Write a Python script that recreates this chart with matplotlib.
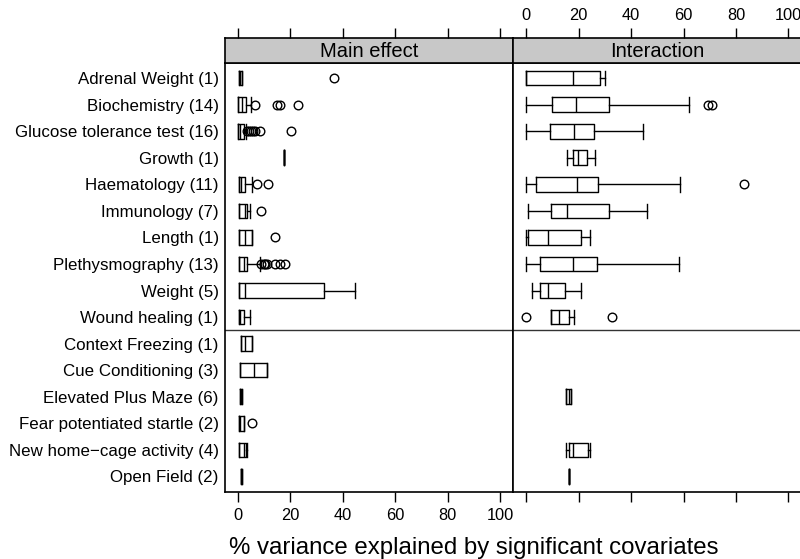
import numpy as np
import matplotlib.pyplot as plt

plt.rcParams['font.family'] = ['Liberation Sans', 'DejaVu Sans']

categories = ['Adrenal Weight (1)', 'Biochemistry (14)', 'Glucose tolerance test (16)',
              'Growth (1)', 'Haematology (11)', 'Immunology (7)', 'Length (1)',
              'Plethysmography (13)', 'Weight (5)', 'Wound healing (1)',
              'Context Freezing (1)', 'Cue Conditioning (3)', 'Elevated Plus Maze (6)',
              'Fear potentiated startle (2)', 'New home\u2212cage activity (4)', 'Open Field (2)']

# Main effect: whisker low, Q1, median, Q3, whisker high, outliers
main_lo = [0.3, 0.2, 0.2, 17.5, 0.4, 0.4, 0.4, 0.4, 0.4, 0.4, 1.3, 1.0, 1.0, 0.6, 0.6, 1.1]
main_q1 = [0.3, 0.2, 0.2, 17.5, 0.4, 0.4, 0.4, 0.4, 0.4, 0.4, 1.3, 1.0, 1.0, 0.6, 0.6, 1.1]
main_med = [0.8, 1.5, 1.0, 17.5, 1.2, 2.8, 2.9, 2.2, 2.7, 1.0, 2.9, 6.1, 1.3, 1.0, 2.4, 1.3]
main_q3 = [1.5, 3.0, 2.5, 17.5, 2.7, 3.6, 5.5, 3.6, 33.0, 2.5, 5.5, 11.2, 1.7, 2.5, 3.0, 1.5]
main_hi = [1.5, 5.2, 3.0, 17.5, 5.5, 4.6, 5.5, 8.6, 44.5, 4.6, 5.5, 11.2, 1.7, 2.5, 3.4, 1.5]
main_out = [[36.5], [6.7, 15.0, 16.2, 22.8], [3.6, 4.3, 5.1, 5.9, 6.6, 8.6, 20.3], [],
            [7.2, 11.5], [8.9], [14.1], [9.0, 9.8, 10.5, 11.2, 14.0, 16.2, 18.0], [], [],
            [], [], [], [5.5], [], []]

# Interaction (None = no significant covariates)
int_lo = [0.0, 0.0, 0.0, 15.5, 0.0, 0.6, 0.0, 0.0, 2.3, 9.5, None, None, 15.3, None, 15.3, 16.5]
int_q1 = [0.0, 9.9, 9.2, 17.8, 3.6, 9.5, 0.6, 5.3, 5.1, 9.5, None, None, 15.3, None, 16.5, 16.5]
int_med = [17.8, 19.1, 18.1, 19.7, 19.3, 15.7, 8.3, 17.8, 8.3, 12.7, None, None, 16.2, None, 17.8, 16.5]
int_q3 = [28.0, 31.6, 25.8, 23.2, 27.4, 31.6, 21.0, 27.1, 14.9, 16.3, None, None, 17.2, None, 23.5, 16.5]
int_hi = [29.9, 62.1, 44.6, 26.2, 58.6, 45.9, 24.5, 58.2, 21.0, 18.1, None, None, 17.2, None, 24.5, 16.5]
int_out = [[], [69.4, 70.9], [], [], [83.2], [], [], [], [], [0.0, 32.9],
           [], [], [], [], [], []]

panel_titles = ['Main effect', 'Interaction']
xticks = [0, 20, 40, 60, 80, 100]


def make_stats(lo, q1, med, q3, hi, out):
    stats, pos = [], []
    for i in range(len(lo)):
        if lo[i] is None:
            continue
        stats.append(dict(whislo=lo[i], q1=q1[i], med=med[i], q3=q3[i],
                          whishi=hi[i], fliers=out[i]))
        pos.append(i + 1)
    return stats, pos


W, H = 800, 559
fig = plt.figure(figsize=(W / 100, H / 100), dpi=100)

px_left = [225, 513.3]
pw = 288.3
top, bot, strip_top = 62.7, 492.3, 38.3
fs_y = 12.2
fs_tick = 11.8
ticklen = 7.2

data = [make_stats(main_lo, main_q1, main_med, main_q3, main_hi, main_out),
        make_stats(int_lo, int_q1, int_med, int_q3, int_hi, int_out)]

for k in range(2):
    ax = fig.add_axes([px_left[k] / W, 1 - bot / H, pw / W, (bot - top) / H])
    sax = fig.add_axes([px_left[k] / W, 1 - top / H, pw / W, (top - strip_top) / H])
    stats, pos = data[k]
    lw = 1.0
    ax.bxp(stats, positions=pos, orientation='horizontal', widths=0.55, capwidths=0.55,
           boxprops=dict(color='black', linewidth=lw),
           medianprops=dict(color='black', linewidth=lw),
           whiskerprops=dict(color='black', linewidth=lw),
           capprops=dict(color='black', linewidth=lw),
           flierprops=dict(marker='o', markerfacecolor='none', markeredgecolor='black',
                           markersize=6.2, markeredgewidth=1.0))
    ax.axhline(10.5, color='#333333', linewidth=1.0)
    ax.set_xlim(-4.9, 105)
    ax.set_ylim(16.6, 0.42)
    ax.set_xticks(xticks)
    ax.tick_params(axis='x', direction='out', length=ticklen, width=1.0,
                   labelsize=fs_tick, pad=4, labelbottom=(k == 0))
    if k == 0:
        ax.set_yticks(range(1, len(categories) + 1))
        ax.set_yticklabels(categories, fontsize=fs_y)
        ax.tick_params(axis='y', length=0, pad=4.5)
    else:
        ax.set_yticks([])
    for s in ax.spines.values():
        s.set_linewidth(1.2)

    sax.set_facecolor('#c8c8c8')
    sax.set_xlim(-4.9, 105)
    sax.set_yticks([])
    sax.set_xticks(xticks)
    sax.tick_params(axis='x', direction='out', length=ticklen, width=1.0, labelsize=fs_tick,
                    bottom=False, labelbottom=False, top=True, labeltop=(k == 1), pad=4)
    sax.text(0.5, 0.45, panel_titles[k], transform=sax.transAxes, ha='center',
             va='center', fontsize=14.5)
    for s in sax.spines.values():
        s.set_linewidth(1.2)

fig.text(473.5 / W, 1 - 548 / H, '% variance explained by significant covariates',
         ha='center', va='center', fontsize=17.3)

fig.savefig('out.png', dpi=100)
